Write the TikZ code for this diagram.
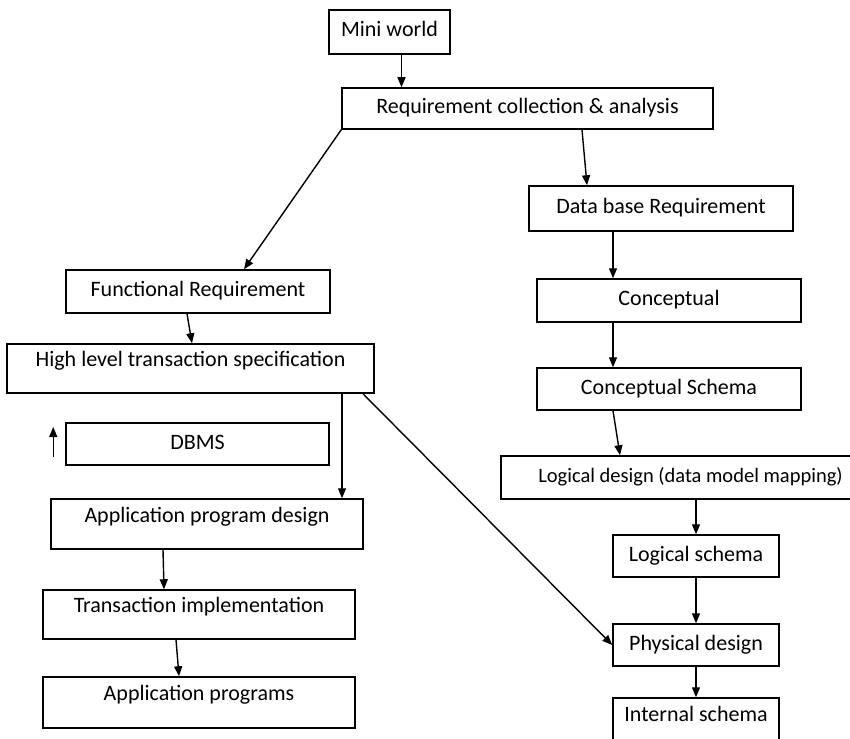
\documentclass[tikz,border=0pt]{standalone}
\usepackage{fontspec}
\setmainfont{Carlito}
\usetikzlibrary{arrows.meta}

\begin{document}
\begin{tikzpicture}[
  x=1pt, y=-1pt,
  font=\fontsize{22}{26}\selectfont,
  box/.style={draw, line width=1.5pt, inner sep=0pt, text height=15pt, text depth=5pt},
  tallbox/.style={box, text depth=19pt},
  arrow/.style={line width=1.4pt, -{Triangle[length=10pt,width=8pt]}}
]
\useasboundingbox (0,0) rectangle (850,738);
\clip (0,0) rectangle (850,738);
% Requirements
\node[box, minimum width=121pt, minimum height=44pt] (mini) at (389.5,32) {Mini world};
\node[box, minimum width=371pt, minimum height=41pt] (req) at (527.5,108.5) {Requirement collection \& analysis};
\draw[arrow] ([xshift=12pt]mini.south) -- ([xshift=12pt]mini.south |- req.north);
% Data base side
\node[box, minimum width=264pt, minimum height=45pt] (dbreq) at (661,208.5) {Data base Requirement};
\node[box, minimum width=264pt, minimum height=43pt] (concept) at (669,300.5) {Conceptual};
\node[box, minimum width=264pt, minimum height=42pt] (cschema) at (669,389) {Conceptual Schema};
\node[box, minimum width=379pt, minimum height=43pt, font=\fontsize{20.5}{24}\selectfont] (logdes) at (690.5,477.5) {Logical design (data model mapping)};
\node[box, minimum width=166pt, minimum height=42pt] (lschema) at (696,556) {Logical schema};
\node[box, minimum width=166pt, minimum height=42pt] (phys) at (696,645) {Physical design};
\node[tallbox, minimum width=166pt, minimum height=50pt] (internal) at (696,723) {Internal schema};
\draw[arrow] ([xshift=54.5pt]req.south) -- ([xshift=-74pt]dbreq.north);
\draw[arrow] ([xshift=-48pt]dbreq.south) -- ([xshift=-56pt]concept.north);
\draw[arrow] ([xshift=-56pt]concept.south) -- ([xshift=-56pt]cschema.north);
\draw[arrow] ([xshift=-56pt]cschema.south) -- ([xshift=-70.5pt]logdes.north);
\draw[arrow] ([xshift=5.5pt]logdes.south) -- (lschema.north);
\draw[arrow] (lschema.south) -- (phys.north);
\draw[arrow] (phys.south) -- (internal.north);
% Functional side
\node[box, minimum width=264pt, minimum height=43pt] (func) at (198,291.5) {Functional Requirement};
\node[tallbox, minimum width=367pt, minimum height=49pt] (high) at (190.5,368.5) {High level transaction specification};
\node[box, minimum width=263pt, minimum height=42pt] (dbms) at (197.5,444) {DBMS};
\node[tallbox, minimum width=312pt, minimum height=50pt] (appdes) at (207,524) {Application program design};
\node[tallbox, minimum width=312pt, minimum height=49pt] (trans) at (199,614.5) {Transaction implementation};
\node[tallbox, minimum width=312pt, minimum height=51pt] (appprog) at (199,702.5) {Application programs};
\draw[arrow] (req.south west) -- ([xshift=46pt]func.north);
\draw[arrow] ([xshift=-11pt]func.south) -- ([xshift=1.5pt]high.north);
\draw[arrow] ([xshift=151.5pt]high.south) -- ([xshift=135pt]appdes.north);
\draw[arrow] ([xshift=172.5pt]high.south) -- (phys.west);
\draw[arrow] ([xshift=-44pt]appdes.south) -- ([xshift=-35pt]trans.north);
\draw[arrow] ([xshift=-23pt]trans.south) -- ([xshift=-20pt]appprog.north);
\coordinate (upfoot) at ([xshift=-12pt,yshift=-13pt]dbms.west);
\coordinate (uptip) at ([xshift=-12pt,yshift=17pt]dbms.west);
\draw[arrow] (upfoot) -- (uptip);
\end{tikzpicture}
\end{document}
